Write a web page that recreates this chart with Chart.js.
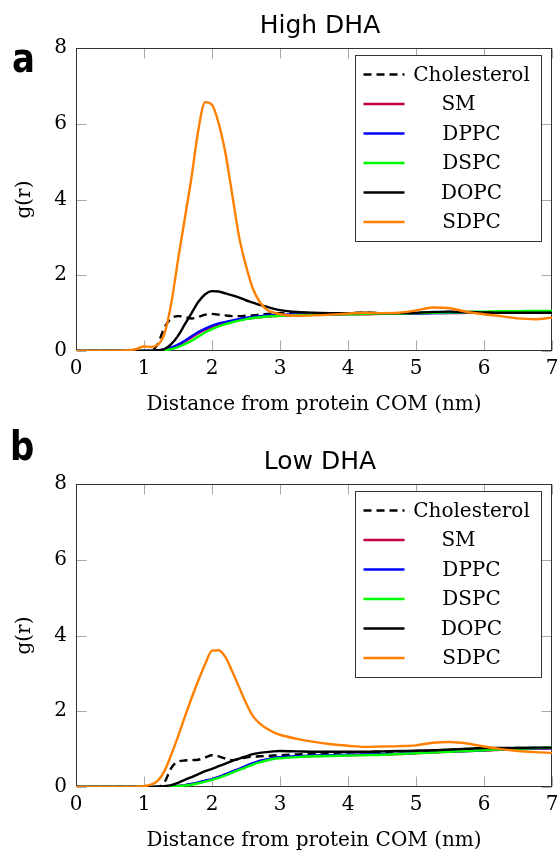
<!DOCTYPE html>
<html><head><meta charset="utf-8">
<script src="https://cdn.jsdelivr.net/npm/chart.js@4.4.0/dist/chart.umd.min.js"></script>
<style>
html,body{margin:0;padding:0;background:#fff;overflow:hidden;width:557px;height:854px}
#wrap{position:relative;width:557px;height:854px}
.pane{position:absolute;left:0;width:557px;height:436px}
#pA{top:0}
#pB{top:436px}
svg{position:absolute;left:0;top:0;pointer-events:none}
</style></head>
<body>
<div id="wrap">
<div class="pane" id="pA"><canvas id="cA" width="557" height="436"></canvas></div>
<div class="pane" id="pB"><canvas id="cB" width="557" height="436"></canvas></div>
<svg width="557" height="854">
  <text x="320" y="33" font-family="DejaVu Sans" font-size="25" text-anchor="middle" fill="#000">High DHA</text>
  <text x="320" y="469" font-family="DejaVu Sans" font-size="25" text-anchor="middle" fill="#000">Low DHA</text>
  <text transform="translate(12,72) scale(0.85,1)" font-family="DejaVu Sans" font-weight="bold" font-size="40" fill="#000">a</text>
  <text transform="translate(10,460) scale(0.85,1)" font-family="DejaVu Sans" font-weight="bold" font-size="40" fill="#000">b</text>
</svg>
</div>
<script>
// ---------- data ----------
const xValues = [0,0.5,0.8,0.9,1.0,1.1,1.2,1.3,1.4,1.5,1.6,1.7,1.8,1.9,2.0,2.1,2.2,2.3,2.4,2.5,2.6,2.7,2.8,2.9,3.0,3.25,3.5,3.75,4.0,4.25,4.5,4.75,5.0,5.25,5.5,5.75,6.0,6.25,6.5,6.75,7.0];
const seriesNames = ['Cholesterol','SM','DPPC','DSPC','DOPC','SDPC'];
const xTicks = [0,1,2,3,4,5,6,7];
const yTicks = [0,2,4,6,8];
const xTitle = 'Distance from protein COM (nm)';
const yTitle = 'g(r)';

// High DHA (a)
const cholA = [0,0,0,0,0,0,0.18,0.62,0.86,0.92,0.9,0.86,0.9,0.96,0.98,0.96,0.94,0.92,0.92,0.93,0.94,0.96,0.98,0.99,1.0,1.0,1.0,1.0,1.0,1.01,1.0,1.0,1.01,1.02,1.03,1.03,1.02,1.02,1.02,1.02,1.02];
const smA   = [0,0,0,0,0,0,0.01,0.03,0.08,0.15,0.25,0.36,0.47,0.56,0.64,0.7,0.74,0.78,0.82,0.85,0.87,0.89,0.91,0.92,0.93,0.95,0.96,0.96,0.97,0.97,0.98,0.98,0.99,1.0,1.0,1.01,1.01,1.02,1.02,1.02,1.02];
const dppcA = [0,0,0,0,0,0,0.01,0.04,0.09,0.17,0.27,0.39,0.5,0.59,0.67,0.73,0.77,0.81,0.85,0.88,0.9,0.92,0.94,0.95,0.96,0.97,0.97,0.97,0.98,0.98,0.98,0.99,0.99,1.0,1.01,1.02,1.02,1.02,1.03,1.03,1.03];
const dspcA = [0,0,0,0,0,0,0,0.02,0.05,0.1,0.18,0.27,0.38,0.49,0.58,0.65,0.71,0.76,0.8,0.84,0.87,0.89,0.91,0.92,0.93,0.95,0.96,0.97,0.97,0.98,0.99,0.99,1.0,1.01,1.02,1.03,1.04,1.05,1.05,1.06,1.06];
const dopcA = [0,0,0,0,0,0.01,0.02,0.05,0.18,0.4,0.7,1.0,1.3,1.5,1.58,1.57,1.52,1.47,1.41,1.34,1.28,1.22,1.17,1.12,1.08,1.03,1.01,1.0,1.0,1.01,1.0,1.0,1.01,1.03,1.04,1.03,1.02,1.01,1.01,1.01,1.01];
const sdpcA = [0,0,0.02,0.06,0.12,0.11,0.16,0.45,1.25,2.4,3.5,4.6,5.85,6.57,6.5,6.0,5.2,4.1,3.0,2.25,1.65,1.3,1.1,1.02,0.97,0.93,0.94,0.96,0.99,1.01,1.0,1.01,1.07,1.15,1.13,1.03,0.97,0.92,0.86,0.84,0.88];

// Low DHA (b)
const cholB = [0,0,0,0,0,0,0,0.12,0.5,0.67,0.7,0.71,0.72,0.78,0.84,0.81,0.75,0.71,0.74,0.78,0.8,0.81,0.82,0.83,0.84,0.86,0.88,0.9,0.91,0.92,0.93,0.94,0.95,0.96,0.98,1.0,1.02,1.02,1.03,1.03,1.03];
const smB   = [0,0,0,0,0,0,0,0.01,0.02,0.03,0.05,0.08,0.11,0.16,0.2,0.26,0.33,0.4,0.47,0.55,0.62,0.68,0.72,0.76,0.78,0.8,0.82,0.83,0.84,0.85,0.86,0.87,0.89,0.91,0.93,0.95,0.96,0.98,1.0,1.01,1.02];
const dppcB = [0,0,0,0,0,0,0,0.01,0.02,0.03,0.05,0.08,0.12,0.17,0.21,0.27,0.34,0.41,0.48,0.56,0.63,0.69,0.73,0.77,0.79,0.81,0.83,0.84,0.85,0.86,0.87,0.88,0.9,0.92,0.94,0.95,0.97,0.99,1.01,1.02,1.03];
const dspcB = [0,0,0,0,0,0,0,0,0.01,0.02,0.04,0.06,0.1,0.14,0.19,0.24,0.31,0.38,0.45,0.52,0.59,0.65,0.7,0.74,0.76,0.79,0.81,0.82,0.83,0.84,0.85,0.87,0.89,0.91,0.93,0.95,0.97,0.99,1.01,1.03,1.04];
const dopcB = [0,0,0,0,0,0,0.01,0.02,0.05,0.11,0.19,0.26,0.34,0.42,0.48,0.55,0.62,0.69,0.75,0.81,0.87,0.9,0.92,0.94,0.95,0.94,0.93,0.93,0.93,0.93,0.94,0.95,0.96,0.97,0.99,1.01,1.03,1.03,1.03,1.04,1.04];
const sdpcB = [0,0,0,0.01,0.02,0.06,0.16,0.42,0.85,1.33,1.85,2.35,2.82,3.25,3.6,3.61,3.42,3.04,2.63,2.22,1.88,1.68,1.55,1.45,1.38,1.27,1.19,1.13,1.09,1.06,1.07,1.08,1.1,1.17,1.19,1.15,1.07,1.0,0.95,0.92,0.9];

// ---------- styles ----------
const lineColors = ['#000000','#bf0040','#0000ff','#00ff00','#000000','#ff8000'];
const lineDashes = [[8,5],[],[],[],[],[]];
const drawOrder  = [6,5,4,3,2,1];
const SERIF = 'DejaVu Serif';

const framePlugin = {
  id: 'frame',
  beforeDatasetsDraw(chart) {
    const {ctx, chartArea: a, scales: {x, y}} = chart;
    const L = Math.round(a.left) + 0.5, R = Math.round(a.right) - 0.5;
    const T = Math.round(a.top) + 0.5, B = Math.round(a.bottom) - 0.5;
    ctx.save();
    ctx.strokeStyle = '#a8a8a8';
    ctx.lineWidth = 1;
    ctx.beginPath();
    xTicks.forEach(v => {
      const px = Math.round(x.getPixelForValue(v)) + 0.5;
      ctx.moveTo(px, B); ctx.lineTo(px, B - 10);
      ctx.moveTo(px, T); ctx.lineTo(px, T + 10);
    });
    yTicks.forEach(v => {
      const py = Math.round(y.getPixelForValue(v)) + 0.5;
      ctx.moveTo(L, py); ctx.lineTo(L + 10, py);
      ctx.moveTo(R, py); ctx.lineTo(R - 10, py);
    });
    ctx.stroke();
    ctx.strokeStyle = '#333333';
    ctx.strokeRect(L, T, R - L, B - T);
    ctx.restore();
  }
};

const legendPlugin = {
  id: 'boxLegend',
  afterDatasetsDraw(chart) {
    const {ctx, chartArea: a} = chart;
    const bx = Math.round(a.right - 197) + 0.5, by = Math.round(a.top + 7) + 0.5;
    const bw = 186, bh = 186;
    ctx.save();
    ctx.fillStyle = '#fff';
    ctx.fillRect(bx, by, bw, bh);
    ctx.strokeStyle = '#333333';
    ctx.lineWidth = 1;
    ctx.strokeRect(bx, by, bw, bh);
    ctx.font = '20px "' + SERIF + '"';
    ctx.textBaseline = 'middle';
    ctx.textAlign = 'center';
    chart.data.datasets.forEach((ds, i) => {
      const cy = by + 19 + i * 29.5;
      ctx.beginPath();
      ctx.strokeStyle = ds.borderColor;
      ctx.lineWidth = 2.4;
      ctx.setLineDash(ds.borderDash || []);
      ctx.moveTo(bx + 8, cy); ctx.lineTo(bx + 49, cy);
      ctx.stroke();
      ctx.setLineDash([]);
      ctx.fillStyle = '#000';
      const cx = ds.label === 'SM' ? bx + 103 : bx + 116;
      ctx.fillText(ds.label, cx, cy + 1);
    });
    ctx.restore();
  }
};

function makeChart(canvasId, seriesList) {
  const datasets = seriesList.map((vals, i) => ({
    label: seriesNames[i],
    data: xValues.map((xv, j) => ({x: xv, y: vals[j]})),
    borderColor: lineColors[i],
    borderDash: lineDashes[i],
    borderWidth: 2.4,
    pointRadius: 0,
    fill: false,
    cubicInterpolationMode: 'monotone',
    order: drawOrder[i]
  }));
  return new Chart(document.getElementById(canvasId), {
    type: 'line',
    data: {datasets},
    plugins: [framePlugin, legendPlugin],
    options: {
      responsive: false,
      animation: false,
      devicePixelRatio: 1,
      layout: {padding: {top: 48, right: 5, left: 0, bottom: 0}},
      plugins: {legend: {display: false}, tooltip: {enabled: false}, title: {display: false}},
      scales: {
        x: {
          type: 'linear', min: 0, max: 7,
          afterBuildTicks: s => { s.ticks = xTicks.map(v => ({value: v})); },
          ticks: {font: {family: SERIF, size: 20}, color: '#000', padding: 6, maxRotation: 0, autoSkip: false},
          grid: {display: false, drawTicks: false},
          border: {display: false},
          title: {display: true, text: xTitle, color: '#000', font: {family: SERIF, size: 20}, padding: {top: 0, bottom: 19}},
          afterFit: s => { s.height = 85; s.paddingLeft = 0; s.paddingRight = 0; }
        },
        y: {
          type: 'linear', min: 0, max: 8,
          afterBuildTicks: s => { s.ticks = yTicks.map(v => ({value: v})); },
          ticks: {font: {family: SERIF, size: 20}, color: '#000', padding: 9},
          grid: {display: false, drawTicks: false},
          border: {display: false},
          title: {display: true, text: yTitle, color: '#000', font: {family: SERIF, size: 20}, padding: {top: 13, bottom: 0}},
          afterFit: s => { s.width = 76; s.paddingTop = 0; s.paddingBottom = 0; }
        }
      }
    }
  });
}

makeChart('cA', [cholA, smA, dppcA, dspcA, dopcA, sdpcA]);
makeChart('cB', [cholB, smB, dppcB, dspcB, dopcB, sdpcB]);
</script>
</body></html>
